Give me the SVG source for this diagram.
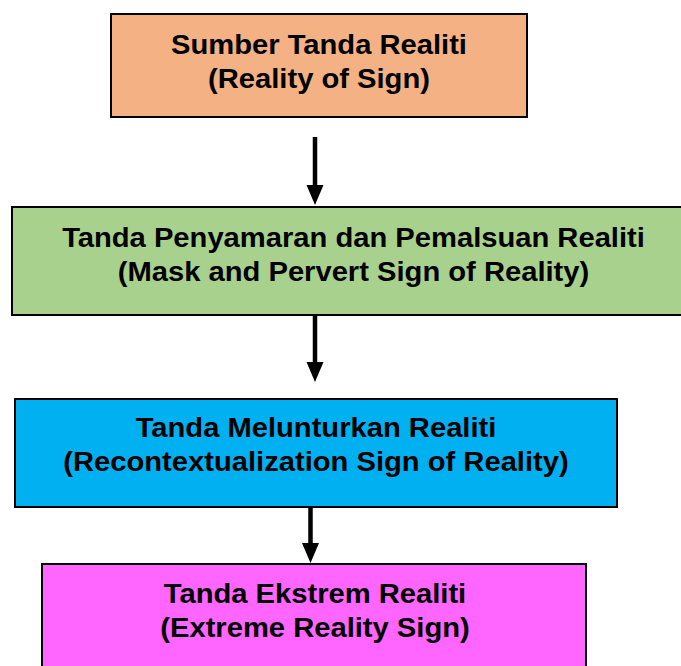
<svg xmlns="http://www.w3.org/2000/svg" width="681" height="666" viewBox="0 0 681 666">
<style>
.box{stroke:#000;stroke-width:2}
.t{font-family:"Liberation Sans",Arial,sans-serif;font-weight:bold;font-size:27px;fill:#000;text-anchor:middle}
.c{stroke:#000;stroke-width:4.5;fill:none}
.h{fill:#000}
</style>
<rect width="681" height="666" fill="#fff"/>
<g id="node1">
<rect class="box" x="111" y="14" width="416" height="103" fill="#F4B183"/>
<g transform="translate(319,0) scale(1.08,1)">
<text class="t" x="0" y="54">Sumber Tanda Realiti</text>
<text class="t" x="0" y="88">(Reality of Sign)</text>
</g>
</g>
<g id="node2">
<rect class="box" x="12" y="207" width="690" height="108" fill="#A9D18E"/>
<g transform="translate(353.5,0) scale(1.08,1)">
<text class="t" x="0" y="247">Tanda Penyamaran dan Pemalsuan Realiti</text>
<text class="t" x="0" y="281">(Mask and Pervert Sign of Reality)</text>
</g>
</g>
<g id="node3">
<rect class="box" x="15" y="399" width="602" height="108" fill="#00B0F0"/>
<g transform="translate(316,0) scale(1.08,1)">
<text class="t" x="0" y="437">Tanda Melunturkan Realiti</text>
<text class="t" x="0" y="471">(Recontextualization Sign of Reality)</text>
</g>
</g>
<g id="node4">
<rect class="box" x="42" y="564" width="544" height="110" fill="#FF66FF"/>
<g transform="translate(315,0) scale(1.08,1)">
<text class="t" x="0" y="603">Tanda Ekstrem Realiti</text>
<text class="t" x="0" y="637">(Extreme Reality Sign)</text>
</g>
</g>
<g id="connectors">
<line class="c" x1="315" y1="137" x2="315" y2="187"/>
<polygon class="h" points="306.5,185 323.5,185 315,205"/>
<line class="c" x1="315" y1="315" x2="315" y2="364"/>
<polygon class="h" points="306.5,362 323.5,362 315,382"/>
<line class="c" x1="310.5" y1="507" x2="310.5" y2="545"/>
<polygon class="h" points="302,543 319,543 310.5,563"/>
</g>
</svg>
